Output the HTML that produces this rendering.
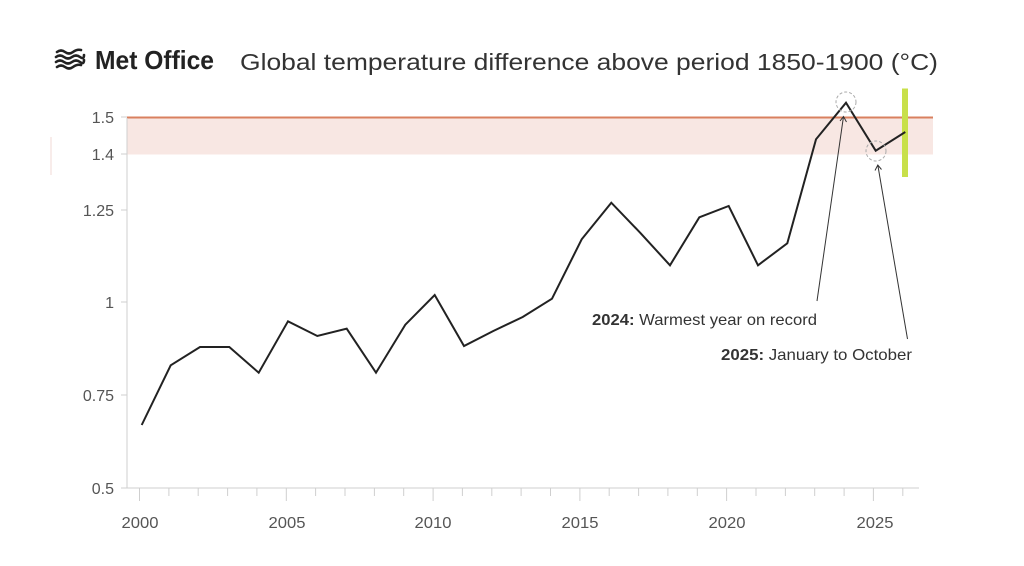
<!DOCTYPE html>
<html>
<head>
<meta charset="utf-8">
<style>
html,body{margin:0;padding:0;background:#fff;}
svg{display:block;}
text{font-family:"Liberation Sans",sans-serif;}
</style>
</head>
<body>
<svg width="1024" height="566" viewBox="0 0 1024 566" xmlns="http://www.w3.org/2000/svg">
<rect width="1024" height="566" fill="#fff"/>

<!-- Logo icon -->
<g fill="none" stroke="#222" stroke-width="2.6" stroke-linecap="round">
  <path d="M57 52 q4 -3 8 0 t8 0 t8 -2"/>
  <path d="M56 57 q4 -3 8 0 t8 0 t8 0 t4 -2"/>
  <path d="M56 62 q4 -3 8 0 t8 0 t8 0 t4 -2"/>
  <path d="M57 67 q4 -3 8 0 t8 0 t8 -2"/>
</g>
<text x="95" y="69" font-size="26" font-weight="bold" fill="#222" textLength="119" lengthAdjust="spacingAndGlyphs">Met Office</text>

<!-- Title -->
<text x="240" y="70" font-size="23" fill="#333" textLength="698" lengthAdjust="spacingAndGlyphs">Global temperature difference above period 1850-1900 (°C)</text>

<!-- faint line at left -->
<line x1="51" y1="137" x2="51" y2="175" stroke="#f0d8d4" stroke-width="1"/>

<!-- band -->
<rect x="127" y="117" width="806" height="37.5" fill="#f8e7e3"/>
<line x1="127" y1="117.5" x2="933" y2="117.5" stroke="#d9805f" stroke-width="2"/>

<!-- axes -->
<line x1="127" y1="118" x2="127" y2="488" stroke="#cfcfcf" stroke-width="1"/>
<line x1="127" y1="488" x2="919" y2="488" stroke="#cfcfcf" stroke-width="1"/>

<!-- y ticks -->
<g stroke="#cfcfcf" stroke-width="1">
  <line x1="121" y1="117" x2="127" y2="117"/>
  <line x1="121" y1="154" x2="127" y2="154"/>
  <line x1="121" y1="210" x2="127" y2="210"/>
  <line x1="121" y1="302" x2="127" y2="302"/>
  <line x1="121" y1="395" x2="127" y2="395"/>
  <line x1="121" y1="488" x2="127" y2="488"/>
</g>
<g font-size="16" fill="#555" text-anchor="end">
  <text x="114" y="123">1.5</text>
  <text x="114" y="160">1.4</text>
  <text x="114" y="216">1.25</text>
  <text x="114" y="308">1</text>
  <text x="114" y="401">0.75</text>
  <text x="114" y="494">0.5</text>
</g>

<!-- x ticks -->
<g stroke="#cfcfcf" stroke-width="1">
  <line x1="139.5" y1="488" x2="139.5" y2="501"/>
  <line x1="168.9" y1="488" x2="168.9" y2="496"/>
  <line x1="198.2" y1="488" x2="198.2" y2="496"/>
  <line x1="227.6" y1="488" x2="227.6" y2="496"/>
  <line x1="256.9" y1="488" x2="256.9" y2="496"/>
  <line x1="286.3" y1="488" x2="286.3" y2="501"/>
  <line x1="315.6" y1="488" x2="315.6" y2="496"/>
  <line x1="345" y1="488" x2="345" y2="496"/>
  <line x1="374.4" y1="488" x2="374.4" y2="496"/>
  <line x1="403.7" y1="488" x2="403.7" y2="496"/>
  <line x1="433.1" y1="488" x2="433.1" y2="501"/>
  <line x1="462.4" y1="488" x2="462.4" y2="496"/>
  <line x1="491.8" y1="488" x2="491.8" y2="496"/>
  <line x1="521.1" y1="488" x2="521.1" y2="496"/>
  <line x1="550.5" y1="488" x2="550.5" y2="496"/>
  <line x1="579.9" y1="488" x2="579.9" y2="501"/>
  <line x1="609.2" y1="488" x2="609.2" y2="496"/>
  <line x1="638.6" y1="488" x2="638.6" y2="496"/>
  <line x1="667.9" y1="488" x2="667.9" y2="496"/>
  <line x1="697.3" y1="488" x2="697.3" y2="496"/>
  <line x1="726.6" y1="488" x2="726.6" y2="501"/>
  <line x1="756" y1="488" x2="756" y2="496"/>
  <line x1="785.4" y1="488" x2="785.4" y2="496"/>
  <line x1="814.7" y1="488" x2="814.7" y2="496"/>
  <line x1="844.1" y1="488" x2="844.1" y2="496"/>
  <line x1="873.4" y1="488" x2="873.4" y2="501"/>
  <line x1="902.8" y1="488" x2="902.8" y2="496"/>
</g>
<g font-size="16" fill="#555" text-anchor="middle">
  <text x="140" y="528" textLength="37" lengthAdjust="spacingAndGlyphs">2000</text>
  <text x="287" y="528" textLength="37" lengthAdjust="spacingAndGlyphs">2005</text>
  <text x="433" y="528" textLength="37" lengthAdjust="spacingAndGlyphs">2010</text>
  <text x="580" y="528" textLength="37" lengthAdjust="spacingAndGlyphs">2015</text>
  <text x="727" y="528" textLength="37" lengthAdjust="spacingAndGlyphs">2020</text>
  <text x="875" y="528" textLength="37" lengthAdjust="spacingAndGlyphs">2025</text>
</g>

<!-- green bar -->
<rect x="902" y="88.5" width="6" height="88.5" fill="#c8e04a"/>

<!-- data line -->
<polyline fill="none" stroke="#222" stroke-width="2" stroke-linejoin="miter"
 points="141.7,425 170.7,365.3 200,347 229.3,347 258.7,372.7 288,321.3 317.3,336 346.7,328.7 376,372.7 405.3,324.7 434.7,295 464,346 493.3,331 522.7,317 552,298.7 581.7,239.3 611.3,202.7 640.7,233.3 670,265.3 699.3,217.3 728.7,206 758,265.3 787.3,243.3 816,139.3 846,102.7 875.7,150.7 905.3,132"/>

<!-- dashed circles -->
<circle cx="846" cy="102" r="10" fill="none" stroke="#aaa" stroke-width="1" stroke-dasharray="3,2"/>
<circle cx="876" cy="151" r="10" fill="none" stroke="#aaa" stroke-width="1" stroke-dasharray="3,2"/>

<!-- arrows -->
<g stroke="#333" stroke-width="1" fill="none">
  <line x1="817" y1="301" x2="843.5" y2="116.5"/>
  <path d="M840 121 L843.5 116.5 L846.5 122"/>
  <line x1="907.5" y1="339" x2="877.8" y2="165"/>
  <path d="M875 170.5 L877.8 165 L881.5 169.5"/>
</g>

<!-- annotations -->
<text x="592" y="325" font-size="16" fill="#333" textLength="225" lengthAdjust="spacingAndGlyphs"><tspan font-weight="bold">2024:</tspan> Warmest year on record</text>
<text x="721" y="360" font-size="16" fill="#333" textLength="191" lengthAdjust="spacingAndGlyphs"><tspan font-weight="bold">2025:</tspan> January to October</text>
</svg>
</body>
</html>
